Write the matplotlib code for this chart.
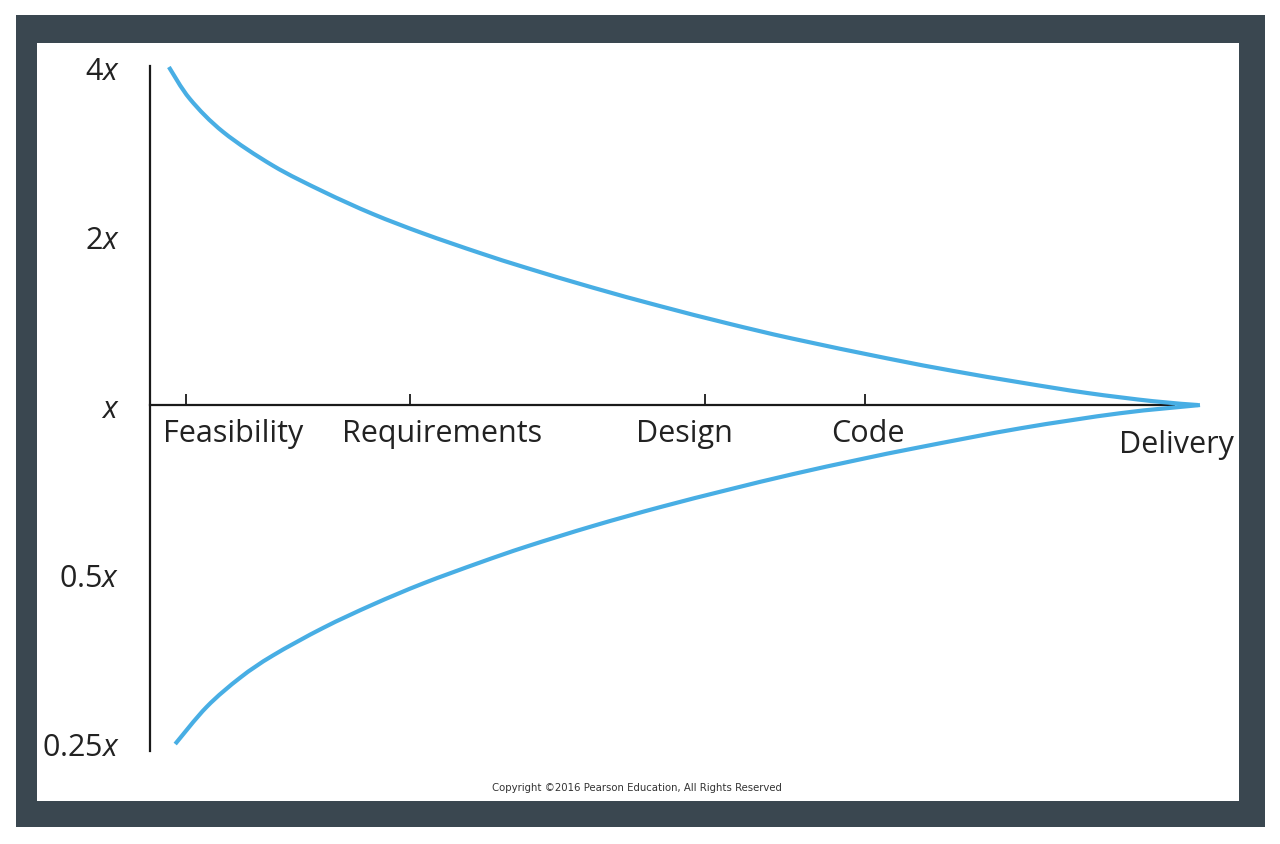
import matplotlib
matplotlib.use("Agg")
import matplotlib.pyplot as plt
import numpy as np
from matplotlib.patches import Rectangle, PathPatch
from matplotlib.path import Path
from matplotlib.ticker import NullLocator

plt.rcParams["font.family"] = ["Open Sans", "DejaVu Sans"]
plt.rcParams["mathtext.fontset"] = "custom"
plt.rcParams["mathtext.rm"] = "Open Sans"
plt.rcParams["mathtext.it"] = "Open Sans:italic"

# project timeline, 0 = start, 100 = delivery
phases = ["Feasibility", "Requirements", "Design", "Code", "Delivery"]
phase_pos = [3.4, 24.8, 52.9, 68.1, 99.5]

y_ticks = [4, 2, 1, 0.5, 0.25]
y_labels = ["$4x$", "$2x$", "$x$", "$0.5x$", "$0.25x$"]

# upper bound of the estimate (multiple of actual)
upper_t = [1.8, 3.8, 7.0, 11.7, 16.5, 21.2, 26.0, 31.4, 35.9, 42.2, 48.6,
           55.0, 61.2, 70.2, 76.5, 82.9, 89.2, 95.5, 99.8]
upper_v = [4.0, 3.509, 3.061, 2.670, 2.400, 2.190, 2.022, 1.866, 1.754, 1.618,
           1.500, 1.398, 1.313, 1.211, 1.150, 1.097, 1.051, 1.016, 1.0]

# lower bound of the estimate
lower_t = [2.4, 5.4, 8.6, 11.7, 16.5, 21.2, 26.0, 31.4, 35.9, 42.2, 48.6,
           55.0, 61.2, 67.6, 73.3, 82.9, 92.4, 100.0]
lower_v = [0.249, 0.290, 0.327, 0.358, 0.401, 0.441, 0.481, 0.524, 0.560,
           0.609, 0.658, 0.706, 0.753, 0.800, 0.841, 0.909, 0.967, 1.0]


def smooth_path(t, v):
    # Catmull-Rom through the read points, done in (t, log2 v) space
    p = np.column_stack([t, np.log2(v)])
    p = np.vstack([p[0], p, p[-1]])
    verts = [p[1]]
    codes = [Path.MOVETO]
    for i in range(1, len(p) - 2):
        c1 = p[i] + (p[i + 1] - p[i - 1]) / 6
        c2 = p[i + 1] - (p[i + 2] - p[i]) / 6
        verts += [c1, c2, p[i + 1]]
        codes += [Path.CURVE4] * 3
    verts = np.array(verts)
    verts[:, 1] = 2 ** verts[:, 1]
    return Path(verts, codes)


W, H = 1280, 845
fig = plt.figure(figsize=(W / 100, H / 100), dpi=100)

# dark frame with white panel
fig.patches.append(Rectangle((16 / W, (H - 828) / H), 1249 / W, 812 / H,
                             transform=fig.transFigure, facecolor="#3a4750",
                             edgecolor="none", zorder=-2))
fig.patches.append(Rectangle((37 / W, (H - 802) / H), 1202 / W, 758 / H,
                             transform=fig.transFigure, facecolor="white",
                             edgecolor="none", zorder=-1))

ax = fig.add_axes([150 / W, (H - 752) / H, 1050 / W, 685 / H])
ax.patch.set_visible(False)

ax.set_yscale("log", base=2)
ax.set_ylim(2 ** -2.047, 2 ** 2.006)
ax.set_xlim(0, 100)

blue = "#48aee4"
for t, v in [(upper_t, upper_v), (lower_t, lower_v)]:
    ax.add_patch(PathPatch(smooth_path(t, v), facecolor="none", edgecolor=blue,
                           lw=3.0, capstyle="butt", clip_on=False, zorder=3))

for s in ["top", "right"]:
    ax.spines[s].set_visible(False)
ax.spines["left"].set_color("#1a1a1a")
ax.spines["left"].set_linewidth(1.6)
ax.spines["bottom"].set_position(("data", 1))
ax.spines["bottom"].set_bounds(0, 97.5)
ax.spines["bottom"].set_color("#1a1a1a")
ax.spines["bottom"].set_linewidth(1.6)

ax.set_yticks(y_ticks, y_labels)
ax.yaxis.set_minor_locator(NullLocator())
ax.tick_params(axis="y", length=0, pad=22, labelsize=22, labelcolor="#222222")

ax.set_xticks(phase_pos[:-1], [""] * 4)
ax.tick_params(axis="x", direction="in", length=8, width=1.3, color="#1a1a1a")

# phase names sit under the axis, offset from their tick (pixels)
label_off = [(47, -28), (32, -28), (-21, -28), (3, -28), (-18, -39)]
for name, pos, (dx, dy) in zip(phases, phase_pos, label_off):
    ax.annotate(name, (pos, 1), xytext=(dx, dy), textcoords="offset pixels",
                ha="center", va="center", fontsize=22, color="#222222")

fig.text(637 / W, (H - 788) / H, "Copyright \u00a92016 Pearson Education, All Rights Reserved",
         ha="center", va="center", fontsize=7.3, color="#333333", family="DejaVu Sans")

fig.savefig("out.png", dpi=100, facecolor="white")
